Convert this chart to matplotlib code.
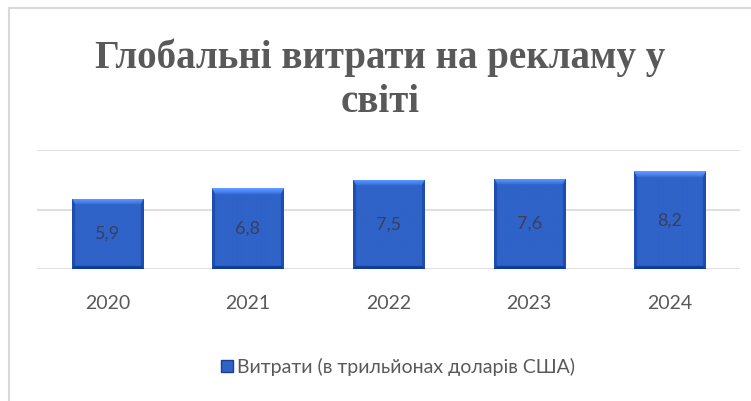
import numpy as np
import matplotlib
matplotlib.use("Agg")
import matplotlib.pyplot as plt
from matplotlib.patches import Rectangle
from matplotlib.lines import Line2D

years = ["2020", "2021", "2022", "2023", "2024"]
values = [5.9, 6.8, 7.5, 7.6, 8.2]
value_labels = ["5,9", "6,8", "7,5", "7,6", "8,2"]
title_lines = ["Глобальні витрати на рекламу у", "світі"]
series_name = "Витрати (в трильйонах доларів США)"

W, H = 751, 401
fig = plt.figure(figsize=(W / 100, H / 100), dpi=100)
fig.patch.set_facecolor("white")

# light frame (left and top)
fig.add_artist(Line2D([9 / W, 9 / W], [0, 1 - 8 / H], color="#d9d9d9", lw=1.5, transform=fig.transFigure))
fig.add_artist(Line2D([9 / W, 1], [1 - 8 / H, 1 - 8 / H], color="#d9d9d9", lw=1.5, transform=fig.transFigure))

ax_left, ax_right, ax_top, ax_bot = 37, 740, 150, 269
ax = fig.add_axes([ax_left / W, 1 - ax_bot / H, (ax_right - ax_left) / W, (ax_bot - ax_top) / H])
ax.set_xlim(-0.5, len(years) - 0.5)
ax.set_ylim(0, 10)
for s in ax.spines.values():
    s.set_visible(False)
ax.set_yticks([0, 5, 10])
ax.yaxis.grid(True, color="#d9d9d9", lw=1.2)
ax.set_axisbelow(True)
ax.tick_params(left=False, bottom=False, labelleft=False)
x = np.arange(len(years))
ax.set_xticks(x)
ax.set_xticklabels(years, fontsize=14, color="#595959", family="Lato")
ax.tick_params(axis="x", pad=15)

base_col = "#2f63c8"
bars = ax.bar(x, values, width=0.505, color=base_col, edgecolor="#1d3f8a", lw=0.7, zorder=2)

px_x = (ax_right - ax_left) / len(years)   # pixels per x data unit
px_y = (ax_bot - ax_top) / 10.0            # pixels per y data unit
base = np.array(matplotlib.colors.to_rgb(base_col))
for i, b in enumerate(bars):
    bx, by = b.get_x(), b.get_y()
    bw, bh = b.get_width(), b.get_height()
    wpx, hpx = int(round(bw * px_x)) * 3, int(round(bh * px_y)) * 3
    cols = (np.arange(wpx) + 0.5) / 3.0
    rows = (np.arange(hpx) + 0.5) / 3.0  # from bottom, px
    U = cols[None, :]
    V = rows[:, None]
    wp, hp = wpx / 3.0, hpx / 3.0
    dl, dr = U, wp - U
    db, dt = V, hp - V
    shade = np.zeros((hpx, wpx))
    top_w, side_w, bot_w = 6.0, 3.0, 3.0
    # determine closest bevel region
    region_top = (dt < top_w) & (dt <= dl * top_w / side_w) & (dt <= dr * top_w / side_w)
    region_bot = (db < bot_w) & (db <= dl) & (db <= dr) & ~region_top
    region_side = ((dl < side_w) | (dr < side_w)) & ~region_top & ~region_bot
    shade = np.where(region_top, 0.22 * (1 - dt / top_w) + 0.06, shade)
    shade = np.where(region_side, -0.10, shade)
    shade = np.where(region_bot, -0.18, shade)
    img = np.clip(base[None, None, :] + shade[..., None] * np.array([0.7, 0.85, 1.0]), 0, 1)
    im = ax.imshow(img, extent=[bx, bx + bw, by, by + bh], origin="lower",
                   aspect="auto", zorder=2.5, interpolation="bilinear")
    im.set_clip_path(b)
    ax.text(bx + bw / 2, by + bh / 2, value_labels[i], ha="center", va="center",
            fontsize=13, color="#3a3f5c", family="Lato", zorder=4)

ax.set_xlim(-0.5, len(years) - 0.5)
ax.set_ylim(0, 10)

for line, base_y in zip(title_lines, [68, 112]):
    fig.text(380 / W, 1 - base_y / H, line, ha="center", va="baseline", fontsize=28,
             fontweight="bold", family="Liberation Serif", color="#595959")

handle = Rectangle((0, 0), 1, 1, facecolor=base_col, edgecolor="#1d3f8a")
fig.legend([handle], [series_name], loc="center", bbox_to_anchor=(398 / W, 1 - 367 / H),
           frameon=False, prop={"family": "Lato", "size": 14}, labelcolor="#595959",
           handlelength=0.6, handleheight=0.6, handletextpad=0.2)

fig.savefig("out.png", dpi=100)
